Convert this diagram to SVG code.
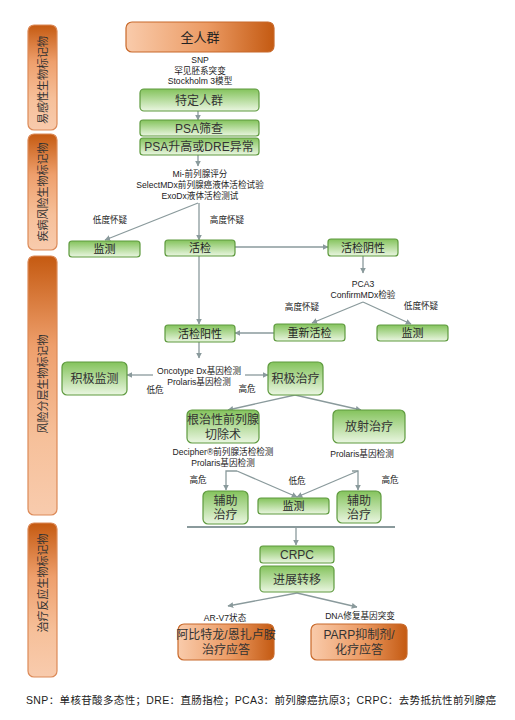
<svg xmlns="http://www.w3.org/2000/svg" width="515" height="720" viewBox="0 0 515 720">
<defs>
<linearGradient id="gGreen" x1="0" y1="0" x2="0" y2="1">
<stop offset="0" stop-color="#84c35c"/><stop offset="1" stop-color="#eaf6e1"/>
</linearGradient>
<linearGradient id="gOrange" x1="0" y1="0" x2="1" y2="0">
<stop offset="0" stop-color="#f9cbab"/><stop offset="0.55" stop-color="#eb9a63"/><stop offset="1" stop-color="#c45a12"/>
</linearGradient>
<linearGradient id="gSide" x1="0" y1="0" x2="0" y2="1">
<stop offset="0" stop-color="#c55a11"/><stop offset="0.35" stop-color="#ee9f6c"/><stop offset="0.7" stop-color="#f6c09a"/><stop offset="1" stop-color="#f8cbad"/>
</linearGradient>
<marker id="arr" viewBox="0 0 10 10" refX="9" refY="5" markerWidth="4.5" markerHeight="4.5" orient="auto">
<path d="M0,0 L10,5 L0,10 z" fill="#8a9a9c"/>
</marker>
<style>
.g{fill:url(#gGreen);stroke:#5e9a3e;stroke-width:1.2}
.o{fill:url(#gOrange);stroke:#c8692a;stroke-width:1.2}
.s{fill:url(#gSide);stroke:#dc8a58;stroke-width:1.2}
.t{font-family:"Liberation Sans","Noto Sans CJK SC",sans-serif;fill:#222;text-anchor:middle}
.bt{font-size:12px;fill:#333}
.st{font-size:8.6px;fill:#222}
.side{font-size:11px;fill:#333}
.c{fill:none;stroke:#8a9a9c;stroke-width:1.3}
.ca{fill:none;stroke:#8a9a9c;stroke-width:1.3;marker-end:url(#arr)}
</style>
</defs>

<g id="sidebars">
<g id="side1"><rect class="s" x="28" y="25" width="29" height="105" rx="6"/><text class="t side" transform="translate(46.5,80) rotate(-90)">易感性生物标记物</text></g>
<g id="side2"><rect class="s" x="28" y="134" width="29" height="116" rx="6"/><text class="t side" transform="translate(46.5,192) rotate(-90)">疾病风险生物标记物</text></g>
<g id="side3"><rect class="s" x="28" y="256" width="29" height="259" rx="6"/><text class="t side" transform="translate(46.5,384) rotate(-90)">风险分层生物标记物</text></g>
<g id="side4"><rect class="s" x="28" y="523" width="29" height="154" rx="6"/><text class="t side" transform="translate(46.5,583) rotate(-90)">治疗反应生物标记物</text></g>
</g>

<g id="connectors">
<line class="ca" x1="198" y1="111" x2="198" y2="120"/>
<line class="ca" x1="198" y1="155" x2="198" y2="166"/>
<line class="ca" x1="198" y1="203" x2="105" y2="240"/>
<line class="ca" x1="199" y1="203" x2="199" y2="240"/>
<line class="ca" x1="235" y1="247" x2="328" y2="247"/>
<line class="ca" x1="199" y1="256" x2="199" y2="324"/>
<line class="ca" x1="363" y1="256" x2="363" y2="273"/>
<line class="ca" x1="363" y1="302" x2="312" y2="323"/>
<line class="ca" x1="363" y1="302" x2="411" y2="324"/>
<line class="ca" x1="274" y1="333" x2="235" y2="333"/>
<line class="ca" x1="199" y1="342" x2="199" y2="358"/>
<line class="ca" x1="153" y1="375" x2="127" y2="375"/>
<line class="ca" x1="245" y1="375" x2="268" y2="375"/>
<line class="ca" x1="295" y1="395" x2="228" y2="410"/>
<line class="ca" x1="295" y1="395" x2="361" y2="410"/>
<polyline class="ca" points="237,471 226,471 226,490"/>
<line class="ca" x1="237" y1="471" x2="297" y2="497"/>
<polyline class="ca" points="352,471 358,471 358,490"/>
<line class="ca" x1="358" y1="471" x2="297" y2="497"/>
<line x1="187" y1="527" x2="395" y2="527" stroke="#8a9a9c" stroke-width="2"/>
<line class="ca" x1="296" y1="527" x2="296" y2="545"/>
<line class="ca" x1="297" y1="593" x2="228" y2="606"/>
<line class="ca" x1="297" y1="593" x2="357" y2="607"/>
</g>

<g id="n-all"><rect class="o" x="126" y="22" width="148" height="30" rx="6"/><text class="t" x="200" y="42" font-size="13" fill="#333">全人群</text></g>
<g id="l-snp"><text class="t st" x="200" y="63">SNP</text><text class="t st" x="200" y="73.5">罕见胚系突变</text><text class="t st" x="200" y="84">Stockholm 3模型</text></g>
<g id="n-specific"><rect class="g" x="140" y="89" width="119" height="22" rx="4"/><text class="t bt" x="199" y="104.5">特定人群</text></g>
<g id="n-psa"><rect class="g" x="140" y="120" width="119" height="16" rx="3"/><text class="t bt" x="199" y="132.5">PSA筛查</text></g>
<g id="n-dre"><rect class="g" x="140" y="138" width="119" height="17" rx="3"/><text class="t bt" x="199" y="151">PSA升高或DRE异常</text></g>
<g id="l-mi"><text class="t st" x="200" y="177">Mi-前列腺评分</text><text class="t st" x="200" y="188">SelectMDx前列腺癌液体活检试验</text><text class="t st" x="200" y="199">ExoDx液体活检测试</text></g>
<g id="l-low1"><text class="t st" x="110" y="223">低度怀疑</text></g>
<g id="l-high1"><text class="t st" x="227" y="223">高度怀疑</text></g>
<g id="n-mon1"><rect class="g" x="69" y="241" width="71" height="16" rx="3"/><text class="t" x="104.5" y="253" font-size="11" fill="#333">监测</text></g>
<g id="n-biopsy"><rect class="g" x="165" y="240" width="70" height="16" rx="3"/><text class="t" x="200" y="252" font-size="11" fill="#333">活检</text></g>
<g id="n-neg"><rect class="g" x="328" y="239" width="70" height="17" rx="3"/><text class="t" x="363" y="251.5" font-size="11" fill="#333">活检阴性</text></g>
<g id="l-pca3"><text class="t st" x="363" y="287">PCA3</text><text class="t st" x="363" y="298">ConfirmMDx检验</text></g>
<g id="l-high2"><text class="t st" x="302" y="310">高度怀疑</text></g>
<g id="l-low2"><text class="t st" x="421" y="309">低度怀疑</text></g>
<g id="n-rebiopsy"><rect class="g" x="274" y="324" width="71" height="17" rx="3"/><text class="t" x="309.5" y="336.5" font-size="11" fill="#333">重新活检</text></g>
<g id="n-mon2"><rect class="g" x="377" y="325" width="71" height="16" rx="3"/><text class="t" x="412.5" y="337" font-size="11" fill="#333">监测</text></g>
<g id="n-pos"><rect class="g" x="165" y="325" width="70" height="17" rx="3"/><text class="t" x="200" y="337.5" font-size="11" fill="#333">活检阳性</text></g>
<g id="l-onco"><text class="t st" x="199" y="374">Oncotype Dx基因检测</text><text class="t st" x="199" y="385">Prolaris基因检测</text></g>
<g id="l-low3"><text class="t st" x="155" y="393">低危</text></g>
<g id="l-high3"><text class="t st" x="247" y="392">高危</text></g>
<g id="n-as"><rect class="g" x="62" y="362" width="65" height="33" rx="5"/><text class="t bt" x="94.5" y="382.5">积极监测</text></g>
<g id="n-at"><rect class="g" x="268" y="362" width="55" height="33" rx="5"/><text class="t bt" x="295.5" y="382.5">积极治疗</text></g>
<g id="n-rp"><rect class="g" x="187" y="410" width="72" height="33" rx="5"/><text class="t bt" x="223" y="424">根治性前列腺</text><text class="t bt" x="223" y="439">切除术</text></g>
<g id="n-rt"><rect class="g" x="333" y="410" width="72" height="33" rx="5"/><text class="t bt" x="369" y="431">放射治疗</text></g>
<g id="l-decipher"><text class="t st" x="223" y="455">Decipher®前列腺活检检测</text><text class="t st" x="223" y="466">Prolaris基因检测</text></g>
<g id="l-prolaris"><text class="t st" x="362" y="457">Prolaris基因检测</text></g>
<g id="l-high4"><text class="t st" x="198" y="483">高危</text></g>
<g id="l-low4"><text class="t st" x="297" y="484">低危</text></g>
<g id="l-high5"><text class="t st" x="390" y="483">高危</text></g>
<g id="n-adj1"><rect class="g" x="203" y="491" width="45" height="33" rx="5"/><text class="t bt" x="225.5" y="505">辅助</text><text class="t bt" x="225.5" y="519">治疗</text></g>
<g id="n-mon3"><rect class="g" x="258" y="498" width="71" height="16" rx="3"/><text class="t" x="293.5" y="510" font-size="11" fill="#333">监测</text></g>
<g id="n-adj2"><rect class="g" x="337" y="491" width="44" height="32" rx="5"/><text class="t bt" x="359" y="505">辅助</text><text class="t bt" x="359" y="519">治疗</text></g>
<g id="n-crpc"><rect class="g" x="260" y="546" width="74" height="17" rx="3"/><text class="t bt" x="297" y="559">CRPC</text></g>
<g id="n-meta"><rect class="g" x="260" y="566" width="74" height="26" rx="4"/><text class="t bt" x="297" y="583.5">进展转移</text></g>
<g id="l-arv7"><text class="t st" x="225" y="621">AR-V7状态</text></g>
<g id="l-dna"><text class="t st" x="360" y="619">DNA修复基因突变</text></g>
<g id="n-abi"><rect class="o" x="178" y="624" width="96" height="36" rx="6"/><text class="t bt" x="226" y="639">阿比特龙/恩扎卢胺</text><text class="t bt" x="226" y="654">治疗应答</text></g>
<g id="n-parp"><rect class="o" x="311" y="624" width="96" height="36" rx="6"/><text class="t bt" x="359" y="639">PARP抑制剂/</text><text class="t bt" x="359" y="654">化疗应答</text></g>
<g id="footer"><text class="t" x="261" y="704" font-size="10.5" fill="#222" textLength="470" lengthAdjust="spacing">SNP：单核苷酸多态性；DRE：直肠指检；PCA3：前列腺癌抗原3；CRPC：去势抵抗性前列腺癌</text></g>
</svg>
